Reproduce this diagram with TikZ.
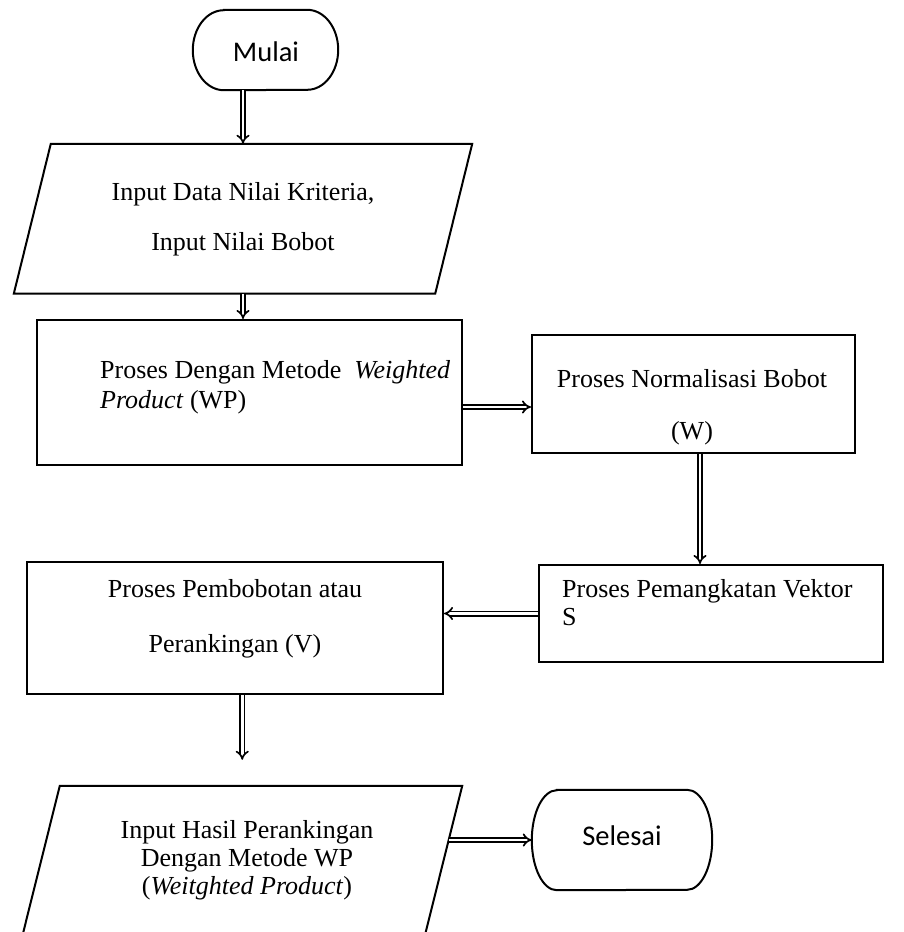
\documentclass[tikz,border=0pt]{standalone}
\usepackage{fontspec}
\setmainfont{Liberation Serif}
\newfontfamily\termfont{Carlito}
\usetikzlibrary{arrows.meta,calc}

% stadium-like terminator outline drawn round an invisible node
\newcommand\drawterm[3]{%
  \draw[outline] ([xshift=#2]#1.north west) -- ([xshift=-#2]#1.north east)
    arc[start angle=90,end angle=-90,x radius=#2,y radius=#3]
    -- ([xshift=#2]#1.south west)
    arc[start angle=270,end angle=90,x radius=#2,y radius=#3] -- cycle;}

\begin{document}
\begin{tikzpicture}[x=1pt,y=1pt,
  outline/.style={draw=black, line width=2pt, line join=miter},
  frame/.style={rectangle, inner sep=0pt},
  procbox/.style={frame, outline},
  termtxt/.style={font=\termfont\fontsize{28.5}{34}\selectfont, inner sep=0pt},
  txt/.style={font=\fontsize{26}{30}\selectfont, inner sep=0pt},
  flow/.style={draw=black, double=white, double distance=2.6pt, line width=1.7pt,
    -{Implies}}
]
\useasboundingbox (0,0) rectangle (903,-932);

% ---- start terminator
\node[frame, minimum width=145, minimum height=80] (mulai) at (265.5,-50) {};
\drawterm{mulai}{31pt}{40pt}
\node[termtxt] (mulaitxt) at (266,-52) {Mulai};

% ---- input parallelogram
\node[frame, minimum width=421, minimum height=149.5] (in1) at (243,-218.75) {};
\draw[outline] ([xshift=-18.5]in1.south west) -- ([xshift=18.5]in1.north west)
  -- ([xshift=18.5]in1.north east) -- ([xshift=-18.5]in1.south east) -- cycle;
\node[txt, font=\fontsize{26}{50}\selectfont, align=center] (in1txt) at (243,-219)
  {Input Data Nilai Kriteria,\\Input Nilai Bobot};

% ---- process boxes
\node[procbox, minimum width=425, minimum height=145] (p1) at (249.5,-392.5) {};
\node[txt, anchor=west, align=left] (p1txt) at (100,-387)
  {Proses Dengan Metode~~\textit{Weighted}\\\textit{Product} (WP)};

\node[procbox, minimum width=323, minimum height=118] (p2) at (693.5,-394) {};
\node[txt, font=\fontsize{26}{52}\selectfont, align=center] (p2txt) at (692,-407)
  {Proses Normalisasi Bobot\\(W)};

\node[procbox, minimum width=344, minimum height=97] (p3) at (711,-613.5) {};
\node[txt, anchor=west, align=left, font=\fontsize{26}{28}\selectfont] (p3txt) at (562,-603)
  {Proses Pemangkatan Vektor\\S};

\node[procbox, minimum width=416, minimum height=132] (p4) at (235,-628) {};
\node[txt, font=\fontsize{26}{55}\selectfont, align=center] (p4txt) at (235,-619)
  {Proses Pembobotan atau\\Perankingan (V)};

% ---- output parallelogram (runs past the lower edge)
\node[frame, minimum width=402, minimum height=150] (in2) at (242.25,-861) {};
\draw[outline] ([xshift=-18.75]in2.south west) -- ([xshift=18.75]in2.north west)
  -- ([xshift=18.75]in2.north east) -- ([xshift=-18.75]in2.south east);
\node[txt, font=\fontsize{26}{28}\selectfont, align=center] (in2txt) at (247,-860)
  {Input Hasil Perankingan\\Dengan Metode WP\\(\textit{Weitghted Product})};

% ---- end terminator
\node[frame, minimum width=180, minimum height=100] (selesai) at (622,-840) {};
\drawterm{selesai}{25pt}{50pt}
\node[termtxt] (selesaitxt) at (622,-836) {Selesai};

% ---- connectors
\coordinate (r1) at ($(p1.east)+(0,-14.5)$);
\coordinate (d2) at ($(p2.south)+(6.5,0)$);
\coordinate (in2out) at (449,-840);
\coordinate (gapend) at ($(in2.north)+(0,26)$);

\draw[flow] (in1.north |- mulai.south) -- (in1.north);
\draw[flow] (in1.south) -- (in1.south |- p1.north);
\draw[flow] (r1) -- (r1 -| p2.west);
\draw[flow] (d2) -- (d2 |- p3.north);
\draw[flow] (p3.west) -- (p3.west -| p4.east);
\draw[flow] (in2.north |- p4.south) -- (gapend);
\draw[flow] (in2out) -- (selesai.west);
\end{tikzpicture}
\end{document}
